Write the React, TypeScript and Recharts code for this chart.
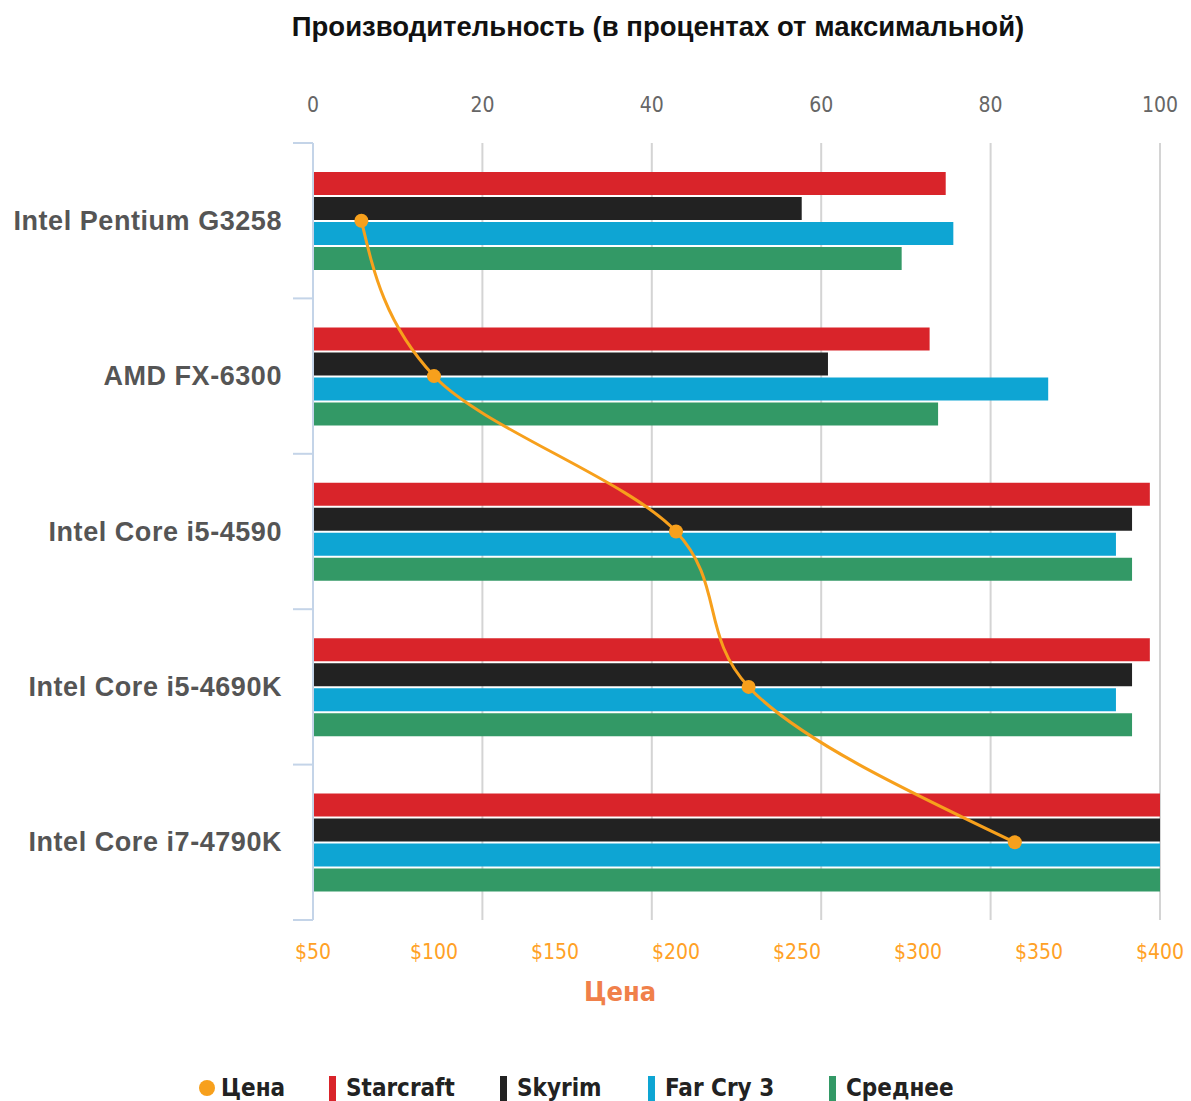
import React from "react";
import { ComposedChart, Bar, Line, XAxis, YAxis, CartesianGrid } from "recharts";

const categories = ["Intel Pentium G3258", "AMD FX-6300", "Intel Core i5-4590", "Intel Core i5-4690K", "Intel Core i7-4790K"];
const starcraft = [74.7, 72.8, 98.8, 98.8, 100];
const skyrim = [57.7, 60.8, 96.7, 96.7, 100];
const farCry3 = [75.6, 86.8, 94.8, 94.8, 100];
const average = [69.5, 73.8, 96.7, 96.7, 100];
const price = [70, 100, 200, 230, 340];

const percentTicks = [0, 20, 40, 60, 80, 100];
const priceTicks = [50, 100, 150, 200, 250, 300, 350, 400];

const legendItems = [
    { name: "Цена", color: "#f7a01c", dot: true, left: 199 },
    { name: "Starcraft", color: "#d9242a", left: 329 },
    { name: "Skyrim", color: "#222222", left: 500 },
    { name: "Far Cry 3", color: "#0ea5d3", left: 648 },
    { name: "Среднее", color: "#339966", left: 829 },
];

const data = categories.map((name, i) => ({
    name,
    starcraft: starcraft[i],
    skyrim: skyrim[i],
    farCry3: farCry3[i],
    average: average[i],
    price: price[i],
}));

const narrow = "'Liberation Sans Narrow', 'DejaVu Sans Condensed', sans-serif";
const AXIS_BLUE = "#c4d4e8";

// category label plus Highcharts-style tick marks on the band edges
function CategoryTick(props: any) {
    const { x, y, payload, index, visibleTicksCount } = props;
    const half = payload.offset || 77.7;
    const axisX = x + 31;
    return (
        <g>
            <line x1={axisX - 20} x2={axisX} y1={y - half} y2={y - half} stroke={AXIS_BLUE} strokeWidth={2} />
            {index === visibleTicksCount - 1 && (
                <line x1={axisX - 20} x2={axisX} y1={y + half} y2={y + half} stroke={AXIS_BLUE} strokeWidth={2} />
            )}
            <text
                x={x}
                y={y}
                dy={9}
                textAnchor="end"
                fill="#555"
                fontSize={27}
                fontWeight="bold"
                letterSpacing={0.55}
                fontFamily="'Liberation Sans', Arial, sans-serif"
            >
                {payload.value}
            </text>
        </g>
    );
}

export default function App() {
    return (
        <div style={{ position: "absolute", left: 0, top: 0, width: 1191, height: 1101, background: "#fff" }}>
            <div
                style={{
                    position: "absolute", left: 0, top: 11, width: 1316, textAlign: "center",
                    fontFamily: "'Liberation Sans', Arial, sans-serif", fontWeight: "bold", fontSize: 27.5, color: "#111",
                }}
            >
                Производительность (в процентах от максимальной)
            </div>
            <ComposedChart
                width={1191}
                height={1101}
                data={data}
                layout="vertical"
                barSize={23}
                barGap={2}
                margin={{ top: 83, right: 31, bottom: 121, left: 13 }}
            >
                <CartesianGrid xAxisId="pct" horizontal={false} stroke="#d4d4d4" strokeWidth={2} />
                <XAxis
                    xAxisId="pct"
                    type="number"
                    orientation="top"
                    domain={[0, 100]}
                    ticks={percentTicks}
                    height={60}
                    axisLine={false}
                    tickLine={false}
                    tickSize={0}
                    tickMargin={31}
                    tick={{ fill: "#666", fontSize: 21, fontFamily: narrow }}
                />
                <XAxis
                    xAxisId="price"
                    type="number"
                    orientation="bottom"
                    domain={[50, 400]}
                    ticks={priceTicks}
                    height={60}
                    axisLine={false}
                    tickLine={false}
                    tickSize={0}
                    tickMargin={24}
                    tickFormatter={(v) => `$${v}`}
                    tick={{ fill: "#ffa126", fontSize: 21, fontFamily: narrow }}
                />
                <YAxis
                    type="category"
                    dataKey="name"
                    width={300}
                    axisLine={{ stroke: AXIS_BLUE, strokeWidth: 2 }}
                    tickLine={false}
                    tickSize={0}
                    tickMargin={31}
                    tick={<CategoryTick />}
                />
                <Bar xAxisId="pct" dataKey="starcraft" fill="#d9242a" isAnimationActive={false} />
                <Bar xAxisId="pct" dataKey="skyrim" fill="#222222" isAnimationActive={false} />
                <Bar xAxisId="pct" dataKey="farCry3" fill="#0ea5d3" isAnimationActive={false} />
                <Bar xAxisId="pct" dataKey="average" fill="#339966" isAnimationActive={false} />
                <Line
                    xAxisId="price"
                    dataKey="price"
                    type="monotone"
                    stroke="#f7a01c"
                    strokeWidth={3}
                    dot={{ r: 7, fill: "#f7a01c", stroke: "none" }}
                    isAnimationActive={false}
                />
            </ComposedChart>
            <div
                style={{
                    position: "absolute", left: 520, top: 976, width: 200, textAlign: "center",
                    fontFamily: narrow, fontWeight: "bold", fontSize: 27, color: "#f0804a",
                }}
            >
                Цена
            </div>
            {legendItems.map((item) => (
                <div
                    key={item.name}
                    style={{
                        position: "absolute", left: item.left, top: 1074, display: "flex", alignItems: "center",
                        fontFamily: narrow, fontWeight: "bold", fontSize: 24, color: "#222",
                    }}
                >
                    {item.dot ? (
                        <span style={{ width: 16, height: 16, borderRadius: 8, background: item.color, marginRight: 6 }} />
                    ) : (
                        <span style={{ width: 7, height: 25, background: item.color, marginRight: 10 }} />
                    )}
                    <span>{item.name}</span>
                </div>
            ))}
        </div>
    );
}
